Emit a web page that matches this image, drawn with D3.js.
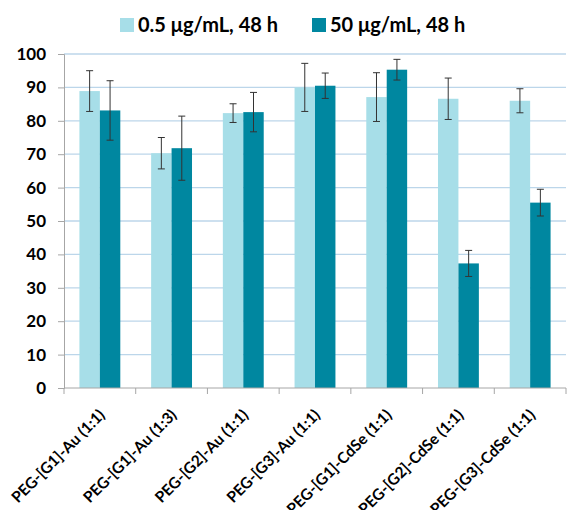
<!DOCTYPE html>
<html lang="en">
<head>
<meta charset="UTF-8">
<title>Cell viability</title>
<script src="https://d3js.org/d3.v7.min.js"></script>
<style>
    body { margin: 0; background: #fff; }
    svg text { font-family: Lato, "Open Sans", sans-serif; font-weight: bold; fill: #000; }
</style>
</head>
<body>
<div id="chart"></div>
<script>
    // data
    const categories = ["PEG-[G1]-Au (1:1)", "PEG-[G1]-Au (1:3)", "PEG-[G2]-Au (1:1)", "PEG-[G3]-Au (1:1)",
        "PEG-[G1]-CdSe (1:1)", "PEG-[G2]-CdSe (1:1)", "PEG-[G3]-CdSe (1:1)"];
    const seriesNames = ["0.5 \u03bcg/mL, 48 h", "50 \u03bcg/mL, 48 h"];
    const lowDose = [88.9, 70.3, 82.3, 90.0, 87.1, 86.6, 86.0];
    const lowDoseErr = [6.1, 4.7, 2.8, 7.2, 7.3, 6.2, 3.6];
    const highDose = [83.1, 71.8, 82.6, 90.5, 95.3, 37.3, 55.5];
    const highDoseErr = [8.9, 9.6, 5.9, 3.8, 3.1, 3.9, 4.0];
    const yTicks = [0, 10, 20, 30, 40, 50, 60, 70, 80, 90, 100];

    const colors = ["#a7dee8", "#0087a0"];
    const W = 568, H = 510;
    const margin = { top: 54, right: 2, bottom: 122, left: 64 };

    const svg = d3.select("#chart").append("svg")
        .attr("width", W)
        .attr("height", H);

    const x = d3.scaleBand()
        .domain(categories)
        .range([margin.left, W - margin.right])
        .paddingInner(0.43)
        .paddingOuter(0.215);
    const x1 = d3.scaleBand()
        .domain([0, 1])
        .range([0, x.bandwidth()]);
    const y = d3.scaleLinear()
        .domain([0, 100])
        .range([H - margin.bottom, margin.top]);

    // gridlines
    svg.append("g")
        .selectAll("line")
        .data(yTicks.filter(d => d > 0))
        .join("line")
        .attr("x1", margin.left)
        .attr("x2", W - margin.right)
        .attr("y1", d => y(d))
        .attr("y2", d => y(d))
        .attr("stroke", "#bcd6ea")
        .attr("stroke-width", 1.3);

    const series = [
        { vals: lowDose, errs: lowDoseErr },
        { vals: highDose, errs: highDoseErr }
    ];

    series.forEach((s, i) => {
        const g = svg.append("g");
        g.selectAll("rect")
            .data(categories)
            .join("rect")
            .attr("x", d => x(d) + x1(i))
            .attr("width", x1.bandwidth())
            .attr("y", (d, j) => y(s.vals[j]))
            .attr("height", (d, j) => y(0) - y(s.vals[j]))
            .attr("fill", colors[i]);

        // error bars
        const eb = g.selectAll("g.err")
            .data(categories)
            .join("g")
            .attr("class", "err")
            .attr("stroke", "#333")
            .attr("stroke-width", 1);
        const cx = d => x(d) + x1(i) + x1.bandwidth() / 2;
        eb.append("line")
            .attr("x1", cx).attr("x2", cx)
            .attr("y1", (d, j) => y(s.vals[j] + s.errs[j]))
            .attr("y2", (d, j) => y(s.vals[j] - s.errs[j]));
        [1, -1].forEach(sign => {
            eb.append("line")
                .attr("x1", d => cx(d) - 3.5)
                .attr("x2", d => cx(d) + 3.5)
                .attr("y1", (d, j) => y(s.vals[j] + sign * s.errs[j]))
                .attr("y2", (d, j) => y(s.vals[j] + sign * s.errs[j]));
        });
    });

    // y axis
    const yAxis = svg.append("g")
        .attr("transform", `translate(${margin.left},0)`)
        .call(d3.axisLeft(y).tickValues(yTicks).tickSize(6).tickPadding(12));
    yAxis.select(".domain").attr("stroke", "#a6a6a6");
    yAxis.selectAll(".tick line").attr("stroke", "#a6a6a6");
    yAxis.selectAll("text").style("font-size", "17px").attr("fill", "#000");

    // x axis
    const bounds = categories.map((c, i) => margin.left + i * x.step()).concat([W - margin.right]);
    const xAxis = svg.append("g");
    xAxis.append("line")
        .attr("x1", margin.left).attr("x2", W - margin.right)
        .attr("y1", y(0)).attr("y2", y(0))
        .attr("stroke", "#a6a6a6");
    xAxis.selectAll("line.tk")
        .data(bounds)
        .join("line")
        .attr("class", "tk")
        .attr("x1", d => d).attr("x2", d => d)
        .attr("y1", y(0)).attr("y2", y(0) + 6)
        .attr("stroke", "#a6a6a6");
    xAxis.selectAll("text")
        .data(categories)
        .join("text")
        .attr("text-anchor", "end")
        .attr("transform", d => `translate(${x(d) + x.bandwidth() / 2 + 6},${y(0) + 28}) rotate(-45)`)
        .style("font-size", "15.5px")
        .text(d => d);

    // legend
    const legend = svg.append("g").attr("transform", "translate(0,25)");
    const legendX = [120, 312];
    seriesNames.forEach((name, i) => {
        const lg = legend.append("g").attr("transform", `translate(${legendX[i]},0)`);
        lg.append("rect")
            .attr("x", 0).attr("y", -7)
            .attr("width", 14).attr("height", 14)
            .attr("fill", colors[i]);
        lg.append("text")
            .attr("x", 18).attr("dy", "0.35em")
            .style("font-size", "20px")
            .text(name);
    });
</script>
</body>
</html>
